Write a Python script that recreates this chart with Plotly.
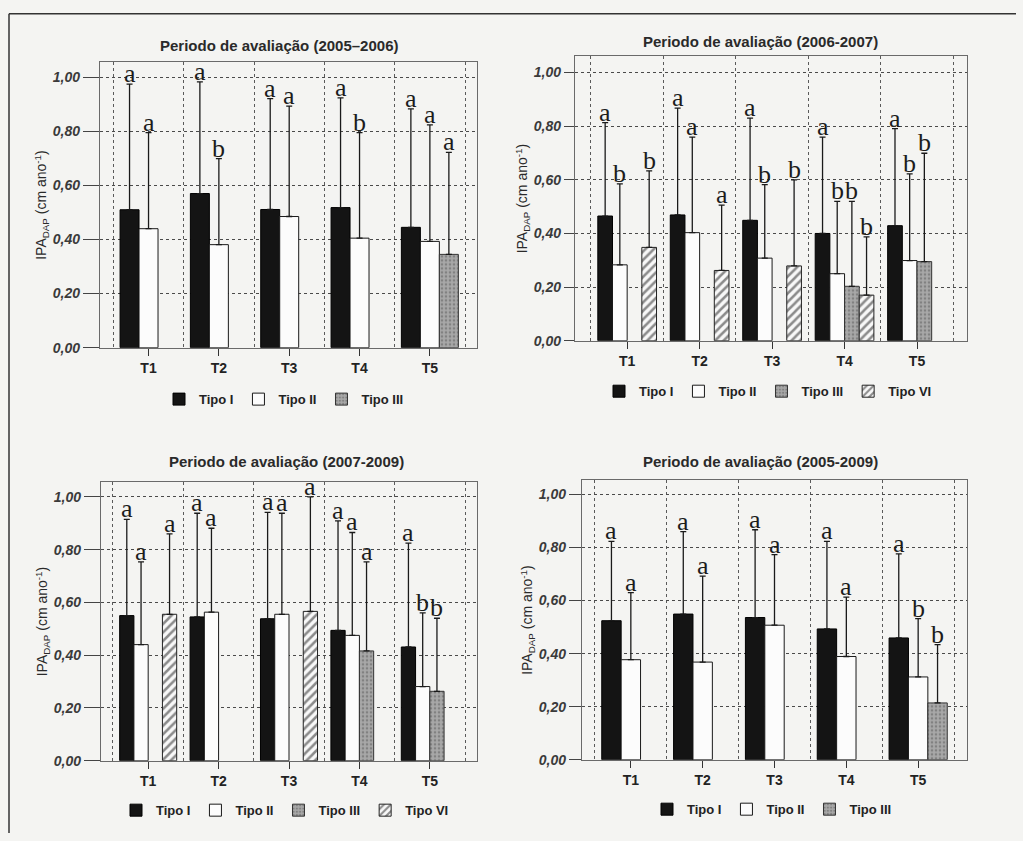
import plotly.graph_objects as go

# ---------------- data ----------------
categories = ["T1", "T2", "T3", "T4", "T5"]
type_names = ["Tipo I", "Tipo II", "Tipo III", "Tipo VI"]
y_tick_values = [0.0, 0.2, 0.4, 0.6, 0.8, 1.0]
panel_titles = [
    "Periodo de avaliação (2005–2006)",
    "Periodo de avaliação (2006-2007)",
    "Periodo de avaliação (2007-2009)",
    "Periodo de avaliação (2005-2009)",
]

# Panel 1 (2005-2006)
p1_tipo1_mean = [0.510, 0.570, 0.511, 0.518, 0.445]
p1_tipo1_upper = [0.975, 0.983, 0.921, 0.924, 0.883]
p1_tipo1_letters = ["a", "a", "a", "a", "a"]
p1_tipo2_mean = [0.440, 0.381, 0.485, 0.405, 0.393]
p1_tipo2_upper = [0.795, 0.699, 0.893, 0.795, 0.824]
p1_tipo2_letters = ["a", "b", "a", "b", "a"]
p1_tipo3_mean = [None, None, None, None, 0.345]
p1_tipo3_upper = [None, None, None, None, 0.722]
p1_tipo3_letters = ["", "", "", "", "a"]

# Panel 2 (2006-2007)
p2_tipo1_mean = [0.465, 0.469, 0.449, 0.400, 0.429]
p2_tipo1_upper = [0.813, 0.867, 0.830, 0.759, 0.791]
p2_tipo1_letters = ["a", "a", "a", "a", "a"]
p2_tipo2_mean = [0.283, 0.403, 0.308, 0.250, 0.299]
p2_tipo2_upper = [0.585, 0.759, 0.582, 0.520, 0.622]
p2_tipo2_letters = ["b", "a", "b", "b", "b"]
p2_tipo3_mean = [None, None, None, 0.203, 0.295]
p2_tipo3_upper = [None, None, None, 0.520, 0.699]
p2_tipo3_letters = ["", "", "", "b", "b"]
p2_tipo6_mean = [0.348, 0.262, 0.279, 0.170, None]
p2_tipo6_upper = [0.633, 0.506, 0.600, 0.387, None]
p2_tipo6_letters = ["b", "a", "b", "b", ""]

# Panel 3 (2007-2009)
p3_tipo1_mean = [0.550, 0.545, 0.538, 0.494, 0.431]
p3_tipo1_upper = [0.915, 0.938, 0.941, 0.909, 0.825]
p3_tipo1_letters = ["a", "a", "a", "a", "a"]
p3_tipo2_mean = [0.440, 0.563, 0.555, 0.475, 0.281]
p3_tipo2_upper = [0.754, 0.881, 0.938, 0.865, 0.560]
p3_tipo2_letters = ["a", "a", "a", "a", "b"]
p3_tipo3_mean = [None, None, None, 0.416, 0.263]
p3_tipo3_upper = [None, None, None, 0.754, 0.540]
p3_tipo3_letters = ["", "", "", "a", "b"]
p3_tipo6_mean = [0.555, None, 0.566, None, None]
p3_tipo6_upper = [0.860, None, 1.000, None, None]
p3_tipo6_letters = ["a", "", "a", "", ""]

# Panel 4 (2005-2009)
p4_tipo1_mean = [0.524, 0.549, 0.536, 0.493, 0.459]
p4_tipo1_upper = [0.823, 0.860, 0.867, 0.823, 0.776]
p4_tipo1_letters = ["a", "a", "a", "a", "a"]
p4_tipo2_mean = [0.377, 0.368, 0.507, 0.389, 0.312]
p4_tipo2_upper = [0.630, 0.692, 0.773, 0.613, 0.532]
p4_tipo2_letters = ["a", "a", "a", "a", "b"]
p4_tipo3_mean = [None, None, None, None, 0.214]
p4_tipo3_upper = [None, None, None, None, 0.434]
p4_tipo3_letters = ["", "", "", "", "b"]

panels = [
    [("Tipo I", p1_tipo1_mean, p1_tipo1_upper, p1_tipo1_letters),
     ("Tipo II", p1_tipo2_mean, p1_tipo2_upper, p1_tipo2_letters),
     ("Tipo III", p1_tipo3_mean, p1_tipo3_upper, p1_tipo3_letters)],
    [("Tipo I", p2_tipo1_mean, p2_tipo1_upper, p2_tipo1_letters),
     ("Tipo II", p2_tipo2_mean, p2_tipo2_upper, p2_tipo2_letters),
     ("Tipo III", p2_tipo3_mean, p2_tipo3_upper, p2_tipo3_letters),
     ("Tipo VI", p2_tipo6_mean, p2_tipo6_upper, p2_tipo6_letters)],
    [("Tipo I", p3_tipo1_mean, p3_tipo1_upper, p3_tipo1_letters),
     ("Tipo II", p3_tipo2_mean, p3_tipo2_upper, p3_tipo2_letters),
     ("Tipo III", p3_tipo3_mean, p3_tipo3_upper, p3_tipo3_letters),
     ("Tipo VI", p3_tipo6_mean, p3_tipo6_upper, p3_tipo6_letters)],
    [("Tipo I", p4_tipo1_mean, p4_tipo1_upper, p4_tipo1_letters),
     ("Tipo II", p4_tipo2_mean, p4_tipo2_upper, p4_tipo2_letters),
     ("Tipo III", p4_tipo3_mean, p4_tipo3_upper, p4_tipo3_letters)],
]

# ---------------- layout / style ----------------
W, H = 1023, 841
BG = "#f4f4f2"
SANS = "Liberation Sans, Arial, sans-serif"
SERIF = "Liberation Serif, Times New Roman, serif"
BARGAP = 0.19

# pixel boxes (left, right, top, bottom-at-zero) for each plot area
boxes = [
    (100, 477, 63, 351),
    (575, 967, 57, 344),
    (101, 477, 487, 768),
    (582, 967, 485, 767),
]
y_max = [1.055, 1.06, 1.055, 1.053]
x_ranges = [(-0.69, 4.67), (-0.72, 4.69), (-0.67, 4.67), (-0.68, 4.68)]
ticklens = [16, 10, 16, 12]
title_pos = [(279, 46), (760, 42), (286, 466), (760, 466)]
legend_pos = [(284, 403), (768, 395), (285, 818), (772, 817)]

styles = {
    "Tipo I": dict(color="#141414", line=dict(color="#000000", width=1)),
    "Tipo II": dict(color="#fcfcfc", line=dict(color="#1a1a1a", width=1)),
    "Tipo III": dict(color="#a2a2a2", line=dict(color="#333333", width=1),
                     pattern=dict(shape=".", fgcolor="#5a5a5a", bgcolor="#a8a8a8",
                                  size=4, solidity=0.35)),
    "Tipo VI": dict(color="#fafafa", line=dict(color="#222222", width=1),
                    pattern=dict(shape="/", fgcolor="#1e1e1e", bgcolor="#f8f8f8",
                                 size=6, solidity=0.42)),
}

fig = go.Figure()
annotations = []
x_index = list(range(len(categories)))

for p, traces in enumerate(panels):
    sfx = "" if p == 0 else str(p + 1)
    leg = "legend" + sfx
    n = len(traces)
    slot = (1 - BARGAP) / n
    for j, (name, means, uppers, letters) in enumerate(traces):
        err_plus = [(u - m) if (m is not None and u is not None) else None
                    for m, u in zip(means, uppers)]
        err_minus = [0 if m is not None else None for m in means]
        fig.add_trace(go.Bar(
            x=x_index, y=means, name=name,
            xaxis="x" + sfx, yaxis="y" + sfx,
            marker=styles[name],
            error_y=dict(type="data", symmetric=False, array=err_plus,
                         arrayminus=err_minus, color="#1a1a1a",
                         thickness=1.3, width=3),
            legend=leg, showlegend=True,
        ))
        offset = -(1 - BARGAP) / 2 + (j + 0.5) * slot
        for i, (u, lt) in enumerate(zip(uppers, letters)):
            if u is None or not lt:
                continue
            annotations.append(dict(
                x=i + offset, y=u, xref="x" + sfx, yref="y" + sfx,
                text=lt, showarrow=False, yanchor="bottom", xanchor="center",
                yshift=-5, borderpad=0,
                font=dict(family=SERIF, size=26, color="#1c1c1c"),
            ))

    l, r, t, b = boxes[p]
    fig.layout["xaxis" + sfx] = dict(
        domain=[l / W, r / W], anchor="y" + sfx, range=list(x_ranges[p]),
        tickvals=x_index, ticktext=categories,
        ticks="outside", ticklen=7, tickwidth=1.2, tickcolor="#333",
        showgrid=False, zeroline=False,
        showline=True, mirror=True, linecolor="#6a6a6a", linewidth=1.3,
        tickfont=dict(family=SANS, size=14, color="#222", weight="bold"),
        minor=dict(tick0=-0.5, dtick=1, showgrid=True, griddash="dot",
                   gridcolor="#5a5a5a", gridwidth=1, ticks=""),
        fixedrange=True,
    )
    fig.layout["yaxis" + sfx] = dict(
        domain=[1 - b / H, 1 - t / H], anchor="x" + sfx, range=[0, y_max[p]],
        tickvals=y_tick_values, tickformat=".2f",
        ticks="outside", ticklen=ticklens[p], tickwidth=1.2, tickcolor="#444",
        showgrid=True, gridcolor="#4a4a4a", griddash="dot", gridwidth=1,
        zeroline=False,
        showline=True, mirror=True, linecolor="#6a6a6a", linewidth=1.3,
        tickfont=dict(family=SANS, size=14, color="#3a3a3a", weight="bold",
                      style="italic"),
        title=dict(text="IPA<sub>DAP</sub> (cm ano<sup>-1</sup>)",
                   font=dict(family=SANS, size=14, color="#2a2a2a"),
                   standoff=2),
        fixedrange=True,
    )
    tx, ty = title_pos[p]
    annotations.append(dict(
        x=tx / W, y=1 - ty / H, xref="paper", yref="paper",
        text="<b>" + panel_titles[p] + "</b>", showarrow=False,
        xanchor="center", yanchor="middle",
        font=dict(family=SANS, size=15, color="#2a2a2a"),
    ))
    lx, ly = legend_pos[p]
    fig.layout[leg] = dict(
        orientation="h", x=lx / W, y=1 - ly / H, xanchor="center",
        yanchor="middle", bgcolor="rgba(0,0,0,0)", traceorder="normal",
        font=dict(family=SANS, size=13, color="#222", weight="bold"),
        itemclick=False, itemdoubleclick=False, itemwidth=30,
    )

# scanned page border (top and left edges)
shapes = [
    dict(type="line", xref="paper", yref="paper", x0=9 / W, x1=9 / W,
         y0=0, y1=1 - 14 / H, line=dict(color="#333", width=1.5)),
    dict(type="line", xref="paper", yref="paper", x0=9 / W, x1=1016 / W,
         y0=1 - 14 / H, y1=1 - 14 / H, line=dict(color="#333", width=1.5)),
]

fig.update_layout(
    width=W, height=H, margin=dict(l=0, r=0, t=0, b=0),
    paper_bgcolor=BG, plot_bgcolor=BG,
    barmode="group", bargap=BARGAP, bargroupgap=0,
    separators=",.",
    font=dict(family=SANS, color="#222"),
    annotations=annotations, shapes=shapes,
    hovermode=False,
)

fig.write_html("out.html", config=dict(displayModeBar=False))
